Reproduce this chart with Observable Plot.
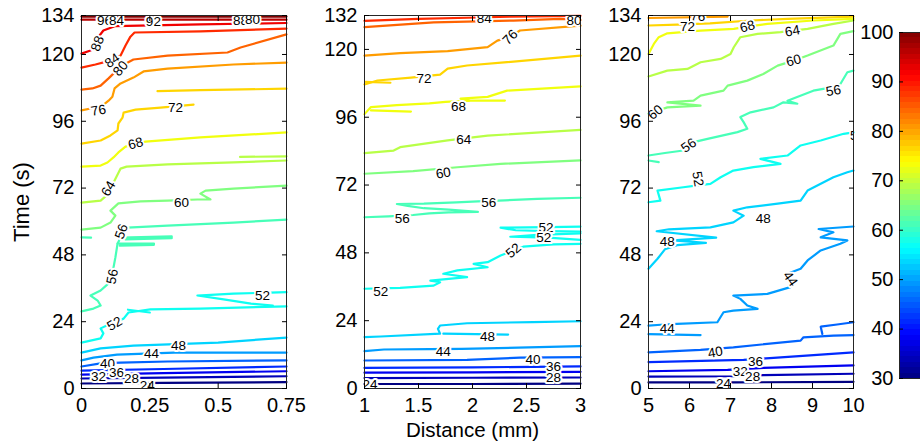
<!DOCTYPE html>
<html><head><meta charset="utf-8">
<script src="https://cdn.jsdelivr.net/npm/d3@7"></script>
<script src="https://cdn.jsdelivr.net/npm/@observablehq/plot@0.6"></script>
<style>
body{margin:0;background:#fff;}
#chart{position:relative;width:920px;height:441px;overflow:hidden;background:#fff;}
#chart svg{position:absolute;top:0;overflow:visible;}
</style></head><body><div id="chart"></div>
<script>
// ---------- data: contour lines [level, [x, time, x, time, ...]] ----------
const p1Lines = [
  [96, [0,133.6, 0.75,133.6]],
  [92, [0,132.5, 0.75,132.5]],
  [88, [0,120.3, 0.033,121.4, 0.051,123.9, 0.066,126.8, 0.08,128.6, 0.124,130.2, 0.435,130.8, 0.75,131.3]],
  [84, [0,115.3, 0.051,116.4, 0.106,117.8, 0.143,119.6, 0.161,123.2, 0.179,126.4, 0.194,127.9, 0.435,128.3, 0.75,129.3]],
  [80, [0,107.4, 0.04,107.8, 0.07,108.8, 0.099,111.4, 0.128,114.2, 0.161,116.7, 0.19,118.2, 0.315,119.6, 0.534,120.7, 0.582,122.5, 0.75,127.2]],
  [76, [0,99.9, 0.033,100.6, 0.08,101.9, 0.099,103.4, 0.113,104.8, 0.121,107.8, 0.143,109.6, 0.19,111.7, 0.227,113.9, 0.315,114.9, 0.556,116.4, 0.75,117.1]],
  [72, [0,88, 0.07,89.1, 0.106,90.9, 0.132,92.7, 0.135,95.2, 0.15,97.3, 0.154,99.1, 0.198,100.2, 0.289,100.9, 0.41,102]],
  [72, [0.278,106.8, 0.435,107.2, 0.75,107.7]],
  [68, [0,79.7, 0.07,80.1, 0.095,81.2, 0.117,83, 0.135,84.8, 0.161,86.9, 0.234,88.7, 0.435,90.2, 0.75,92]],
  [64, [0,66.8, 0.07,67.5, 0.088,69, 0.106,72.6, 0.121,74.7, 0.143,79, 0.165,79.7, 0.315,80.5, 0.556,81.2, 0.75,81.9]],
  [64, [0.58,83.2, 0.75,83.4]],
  [60, [0,57.1, 0.07,57.8, 0.106,59.6, 0.124,62.1, 0.106,63.9, 0.135,66.5, 0.216,67.2, 0.315,67.5, 0.424,67.9, 0.472,67.9, 0.435,70, 0.454,71.1, 0.556,71.8, 0.75,72.9]],
  [56, [0,27.7, 0.044,28.7, 0.07,29.8, 0.059,31.6, 0.033,33.4, 0.07,35.2, 0.095,37.4, 0.106,38.8, 0.113,41.3, 0.124,47.1, 0.132,52.1, 0.143,54.2, 0.157,56.8, 0.168,57.8, 0.315,58.5, 0.556,59.6, 0.75,60.7]],
  [56, [0.143,54.2, 0.33,54.7, 0.33,54.0, 0.16,53.6]],
  [56, [0.132,52.1, 0.265,52.1, 0.265,51.6, 0.14,51.3]],
  [56, [0,54.3, 0.035,54.2]],
  [52, [0,16.5, 0.07,18, 0.08,19.8, 0.07,21.6, 0.106,23.3, 0.154,25.1, 0.172,27.3, 0.252,28.4, 0.435,28.7, 0.75,29.5]],
  [52, [0.17,28.3, 0.25,27.3]],
  [52, [0.75,34.6, 0.556,34.1, 0.424,33.4, 0.52,32.0, 0.62,30.5, 0.7,29.8]],
  [48, [0,12.9, 0.07,14.4, 0.19,15.4, 0.5,16.5, 0.75,18.3]],
  [44, [0,10.1, 0.044,11.1, 0.13,12.2, 0.34,12.9, 0.75,12.9]],
  [40, [0,7.9, 0.07,9, 0.143,9.3, 0.315,9.7, 0.75,10.1]],
  [36, [0,6.4, 0.3,7.0, 0.75,7.9]],
  [32, [0,5.0, 0.3,5.5, 0.75,6.2]],
  [28, [0,3.6, 0.3,3.9, 0.75,4.4]],
  [24, [0,1.8, 0.3,2.0, 0.75,2.3]]
];
const p2Lines = [
  [84, [1,130.1, 1.5,130.8, 2.05,131.3, 2.35,131.6, 3,131.9]],
  [80, [1,127.9, 1.64,129.6, 2.38,130.2, 2.81,130.8, 3,130.4]],
  [76, [1,117.8, 1.33,118.7, 1.77,119.4, 2.14,120.8, 2.23,123.1, 2.35,124.5, 2.44,126.7, 3,128.4]],
  [72, [1,107.6, 1.12,109, 1.43,110, 1.7,111.1, 1.77,113.2, 1.95,114.3, 2.32,115.5, 3,117.8]],
  [72, [1.01,108.5, 1.24,108.2]],
  [68, [1,97.1, 1.06,99.6, 1.3,100.3, 1.6,100.9, 1.75,101.4, 1.97,101.9, 1.89,102.6, 2.14,103.2, 2.32,105.4, 3,106.9]],
  [68, [1.06,98.4, 1.43,98.0]],
  [68, [1.89,101.9, 2.3,101.9]],
  [64, [1,83.3, 1.27,84.2, 1.33,85.4, 1.77,87.8, 2.14,89.5, 3,91.5]],
  [60, [1,76, 1.45,76.9, 1.86,78.3, 2.26,79.5, 3,80.7]],
  [56, [1,60.6, 1.22,60.9, 1.45,61.4, 1.6,62, 1.78,62.3, 2.05,62.5, 1.78,63.3, 1.55,63.8, 1.4,64.6, 1.3,65.3, 1.55,65.4, 1.85,65.9, 2.05,66.2, 2.3,66.6, 2.6,67.1, 3,67.5]],
  [52, [1,35.3, 1.33,35.6, 1.64,36.4, 1.7,37.6, 1.61,38.2, 1.95,39.4, 1.73,40.6, 1.86,41.8, 2.14,42.9, 2.01,44.1, 2.14,44.7, 2.26,47.1, 2.38,48.8, 2.47,50.2, 2.75,51, 3,51.2]],
  [52, [3,57.3, 2.7,57.1, 2.26,56.9, 2.4,56, 2.7,55.7, 3,55.5]],
  [52, [3,54.9, 2.6,54.4, 2.35,53.7, 2.7,53.4, 3,52.6]],
  [48, [1,18.2, 1.15,18.4, 1.7,19.4, 1.68,21.1, 1.7,22.3, 1.95,23.1, 2.56,23.5, 3,23.8]],
  [48, [1.73,19.4, 2.33,19.1]],
  [44, [1,13.2, 1.18,13.8, 1.6,13.9, 1.9,14, 3,15]],
  [40, [1,9.9, 1.95,10.1, 2.44,10.9, 3,11.1]],
  [36, [1,7.3, 2,7.5, 3,7.8]],
  [32, [1,5.6, 2,5.7, 3,5.9]],
  [28, [1,3.7, 2,3.8, 3,3.9]],
  [24, [1,1.6, 2,1.6, 3,1.7]]
];
const p3Lines = [
  [76, [5,133.1, 6.93,133.6]],
  [72, [5,130.4, 5.7,130.7, 6.5,131.2, 7.5,132.2, 8.4,132.8, 10,133.6]],
  [68, [5,120.2, 5.13,123.8, 5.25,126.2, 5.46,127.6, 6.27,128.6, 7.08,129.2, 7.41,130, 7.9,131, 9.02,132.2, 10,132.8]],
  [64, [5,112.1, 5.46,114.2, 5.95,114.8, 6.27,117.2, 6.76,118.4, 7,120.2, 7.08,122.6, 7.24,126.2, 7.66,127.4, 8.22,128, 8.88,129.2, 9.51,131, 10,132.2]],
  [60, [5,98.7, 5.46,101, 6.27,101.6, 5.46,102.8, 6.1,103.4, 6.27,105.2, 6.83,107, 6.93,108.8, 7.41,110.6, 7.8,113, 8.15,116, 8.54,117.8, 8.88,119.6, 9.51,123.2, 9.68,127.4, 10,128.4]],
  [56, [5,83.7, 5.4,84.6, 5.85,85.5, 6.1,88.5, 6.44,89.7, 7.17,92.1, 7.41,93.3, 7.32,95.7, 7.24,97.5, 7.49,99.2, 8.05,101, 8.29,102.8, 8.63,102.3, 8.39,103.4, 9.02,107, 9.4,108, 9.68,109.4, 9.85,113.6, 10,114.2]],
  [56, [5,81.9, 5.25,81.3]],
  [52, [5,66.9, 5.29,67.5, 5.22,71.1, 5.85,72.3, 6.2,73, 6.51,73.5, 6.76,75.9, 7.07,78.3, 7.56,79.5, 8.22,80.7, 7.73,82.5, 8.39,83.7, 8.71,87.3, 9.2,89.1, 9.76,91.5, 10,92]],
  [48, [5,43, 5.22,46.6, 5.4,50, 5.7,51.5, 6.4,52.3, 5.6,53.2, 6.65,54.2, 5.2,56.5, 5.5,57.2, 6.51,57.9, 7.07,59.7, 7.32,62.1, 7.07,63.9, 7.41,65.1, 8.2,66.5, 8.71,67.5, 8.88,71.1, 9.51,75.9, 9.85,77.7, 10,78.3]],
  [44, [5,22.6, 5.3,22.9, 5.7,23.2, 6.68,23.8, 6.83,27.4, 7.07,28, 7.66,28.6, 7.41,29.8, 7.24,32.2, 7.07,33.4, 7.9,34, 8.46,36.4, 8.54,38.2, 8.39,41.2, 8.71,43, 8.88,46, 9.2,49.6, 9.68,52, 9.85,53.2, 9.2,54.3, 9.51,56.1, 9.15,57.3, 10,58.2]],
  [44, [5,19.5, 6.27,19.2]],
  [40, [5,13, 6.27,13.9, 7.07,14.8, 8.71,17.2, 8.78,18.4, 9.51,19, 10,19.2]],
  [40, [9.24,19.6, 9.2,22.2, 9.6,23, 10,23.8]],
  [36, [5,9.5, 7.32,10.3, 8.05,11, 10,13]],
  [32, [5,6.2, 6.93,6.7, 7.8,7.4, 10,8.3]],
  [28, [5,4.3, 7.15,4.4, 7.8,4.8, 10,5.3]],
  [24, [5,2.2, 7.15,2.2, 10,2.4]]
];
// ---------- contour labels [text, x, time, rotation] ----------
const p1Labels = [
  ["96",0.084,132.2,0],["84",0.128,132.2,0],["92",0.263,131.8,0],["88",0.582,132.2,0],["80",0.626,132.5,0],
  ["88",0.059,123.9,-70],["84",0.113,117.8,-35],["80",0.143,115,-50],["76",0.062,99.9,-10],["72",0.344,100.9,0],
  ["68",0.198,88,-15],["64",0.099,71.8,-60],["60",0.366,66.8,0],["56",0.146,56.4,-70],["56",0.113,40.2,-80],
  ["52",0.121,23.3,-30],["52",0.662,33.4,0],["48",0.355,15.4,0],["44",0.256,12.6,0],["40",0.095,9,0],
  ["36",0.128,5.7,0],["32",0.062,4.3,0],["28",0.183,3.6,0],["24",0.241,1.1,0]
];
const p2Labels = [
  ["84",2.11,131,0],["80",2.94,130.3,0],["76",2.35,124.3,-45],["72",1.55,109.7,0],["68",1.87,99.6,0],
  ["64",1.92,88.1,0],["60",1.73,76.2,-10],["56",1.35,60.2,0],["56",2.15,65.6,0],["52",2.68,57,0],
  ["52",2.66,53.5,0],["52",2.38,48.8,-40],["52",1.15,34.2,0],["48",2.14,18.3,0],["44",1.73,12.9,0],
  ["40",2.56,10.3,0],["36",2.75,7.6,0],["28",2.75,3.7,0],["24",1.05,1.4,0]
];
const p3Labels = [
  ["76",6.2,133.4,0],["72",5.95,130,0],["68",7.41,130,-15],["64",8.51,128.4,-10],["60",5.17,99.2,-40],
  ["60",8.54,117.8,-15],["56",5.98,87.3,-35],["56",9.51,107,-10],["52",6.2,75.3,80],["52",10.1,91,0],
  ["48",7.8,61,0],["48",5.46,52.6,0],["44",8.46,39.4,55],["44",5.46,21.4,0],["40",6.63,13,-10],
  ["36",7.61,9.7,0],["32",7.24,6.2,0],["28",7.54,4.1,0],["24",6.83,1.7,0]
];
// ---------- ticks ----------
const p1XTicks = [0, 0.25, 0.5, 0.75];
const p2XTicks = [1, 1.5, 2, 2.5, 3];
const p3XTicks = [5, 6, 7, 8, 9, 10];
const p1YTicks = [0, 24, 48, 72, 96, 120, 134];
const p2YTicks = [0, 24, 48, 72, 96, 120, 132];
const p3YTicks = [0, 24, 48, 72, 96, 120, 134];
const cbTicks = [30, 40, 50, 60, 70, 80, 90, 100];
const cbDomain = [30, 100];
const lineDomain = [24, 96];

const FONT = 'Arial, "Liberation Sans", Helvetica, sans-serif';
function jet(t) {
  const c = v => Math.round(255 * Math.max(0, Math.min(1, v)));
  return `rgb(${c(1.5 - Math.abs(4*t - 3))},${c(1.5 - Math.abs(4*t - 2))},${c(1.5 - Math.abs(4*t - 1))})`;
}
const chart = document.getElementById("chart");

function addPanel(cfg) {
  const rows = cfg.lines.flatMap(([level, pts], id) =>
    d3.range(0, pts.length, 2).map(i => ({id, level, x: pts[i], t: pts[i + 1]})));
  const labs = cfg.labels.map(([text, x, t, rotate]) => ({text, x, t, rotate}));
  const svg = Plot.plot({
    width: cfg.width, height: 441,
    marginLeft: cfg.ml, marginRight: cfg.mr, marginTop: 15, marginBottom: 53,
    style: {fontFamily: FONT, fontSize: "20px", color: "#000", background: "none", overflow: "visible"},
    x: {domain: cfg.xDomain, label: null},
    y: {domain: cfg.yDomain, label: null},
    color: {type: "linear", domain: lineDomain, interpolate: jet},
    marks: [
      Plot.line(rows, {x: "x", y: "t", z: "id", stroke: "level", strokeWidth: 2.2, strokeLinejoin: "round"}),
      Plot.text(labs, {x: "x", y: "t", text: "text", rotate: "rotate", fontSize: 13.5,
        fill: "#000", stroke: "#fff", strokeWidth: 4, clip: true}),
      Plot.frame({stroke: "#262626"}),
      Plot.axisX({ticks: cfg.xTicks, tickFormat: d => String(d), tickSize: -5, tickPadding: 14, label: null}),
      Plot.axisX({anchor: "top", ticks: cfg.xTicks, tickFormat: () => "", tickSize: -5, label: null}),
      Plot.axisY({ticks: cfg.yTicks, tickFormat: d => String(d), tickSize: -5, tickPadding: 12, label: null}),
      Plot.axisY({anchor: "right", ticks: cfg.yTicks, tickFormat: () => "", tickSize: -5, label: null}),
      cfg.yLabel ? Plot.axisY({ticks: [], tickSize: 0, label: cfg.yLabel, labelArrow: "none", labelAnchor: "center", labelOffset: 68, fontSize: 22}) : null,
      cfg.xLabel ? Plot.axisX({ticks: [], tickSize: 0, label: cfg.xLabel, labelArrow: "none", labelAnchor: "center", labelOffset: 48, fontSize: 20.5}) : null
    ]
  });
  svg.style.left = cfg.left + "px";
  chart.appendChild(svg);
}

addPanel({lines: p1Lines, labels: p1Labels, xDomain: [0, 0.75], yDomain: [0, 134], xTicks: p1XTicks, yTicks: p1YTicks,
  left: 0, width: 300, ml: 81, mr: 14, yLabel: "Time (s)"});
addPanel({lines: p2Lines, labels: p2Labels, xDomain: [1, 3], yDomain: [0, 132], xTicks: p2XTicks, yTicks: p2YTicks,
  left: 300, width: 295, ml: 64, mr: 15, xLabel: "Distance (mm)"});
addPanel({lines: p3Lines, labels: p3Labels, xDomain: [5, 10], yDomain: [0, 134], xTicks: p3XTicks, yTicks: p3YTicks,
  left: 595, width: 275, ml: 53, mr: 17});

// ---------- colorbar ----------
const cbBins = d3.range(64).map(i => ({lo: cbDomain[0] + i * (cbDomain[1] - cbDomain[0]) / 64,
                                       hi: cbDomain[0] + (i + 1) * (cbDomain[1] - cbDomain[0]) / 64}));
const cb = Plot.plot({
  width: 62, height: 441, marginLeft: 39, marginRight: 0, marginTop: 32, marginBottom: 63,
  style: {fontFamily: FONT, fontSize: "20px", color: "#000", background: "none", overflow: "visible"},
  y: {domain: cbDomain, label: null},
  color: {type: "linear", domain: cbDomain, interpolate: jet},
  marks: [
    Plot.rect(cbBins, {y1: "lo", y2: "hi", fill: d => (d.lo + d.hi) / 2, shapeRendering: "crispEdges"}),
    Plot.frame({stroke: "#262626"}),
    Plot.axisY({ticks: cbTicks, tickFormat: d => String(d), tickSize: -4, tickPadding: 10, label: null})
  ]
});
cb.style.left = "860px";
chart.appendChild(cb);
</script></body></html>
